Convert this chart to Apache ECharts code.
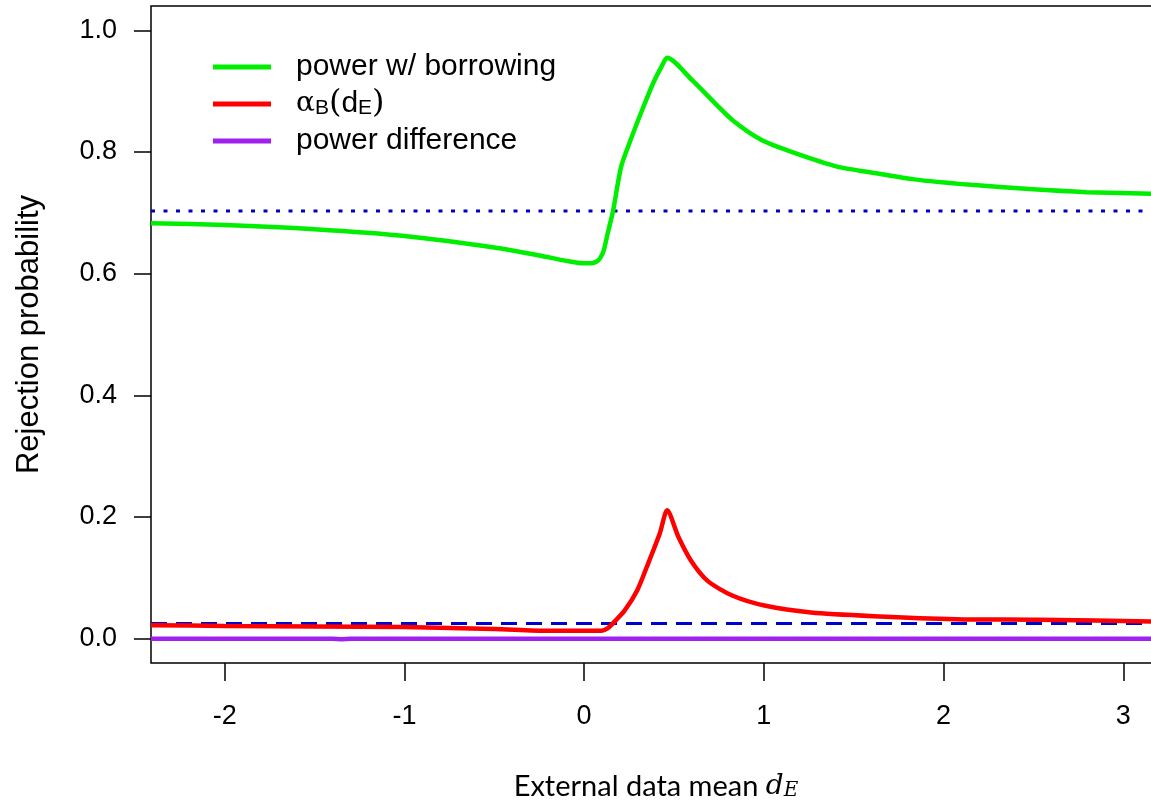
<!DOCTYPE html>
<html>
<head>
<meta charset="utf-8">
<script src="https://cdn.jsdelivr.net/npm/echarts@6/dist/echarts.min.js"></script>
<style>
  html, body { margin: 0; padding: 0; background: #ffffff; }
  #chart { width: 1151px; height: 807px; }
</style>
</head>
<body>
<div id="chart"></div>
<script>
  // values
  var xTicks = [-2, -1, 0, 1, 2, 3];
  var yTicks = [0, 0.2, 0.4, 0.6, 0.8, 1.0];

  var powerX = [-2.41, -2.0, -1.5, -1.0, -0.5, -0.25, -0.1, 0.0, 0.04, 0.07, 0.09, 0.109, 0.131, 0.161, 0.206, 0.259, 0.323, 0.384, 0.43, 0.462, 0.601, 0.729, 0.835, 0.985, 1.174, 1.408, 1.625, 1.836, 2.154, 2.476, 2.794, 3.21];
  var powerY = [0.683, 0.680, 0.673, 0.662, 0.643, 0.630, 0.621, 0.617, 0.617, 0.620, 0.626, 0.638, 0.666, 0.703, 0.776, 0.820, 0.869, 0.913, 0.94, 0.955, 0.918, 0.880, 0.850, 0.820, 0.798, 0.776, 0.765, 0.755, 0.746, 0.739, 0.734, 0.731];

  var alphaX = [-2.41, -2.0, -1.0, -0.5, -0.2, 0.0, 0.098, 0.13, 0.156, 0.225, 0.295, 0.362, 0.421, 0.462, 0.525, 0.595, 0.687, 0.824, 1.01, 1.263, 1.61, 2.07, 2.53, 3.21];
  var alphaY = [0.022, 0.021, 0.019, 0.016, 0.013, 0.013, 0.013, 0.017, 0.024, 0.046, 0.079, 0.128, 0.173, 0.211, 0.167, 0.128, 0.095, 0.071, 0.054, 0.043, 0.037, 0.032, 0.031, 0.028];

  var diffX = [-2.41, -1.4, -1.35, -1.3, 3.21];
  var diffY = [0, 0, -0.001, 0, 0];

  var refPower = 0.703;
  var refAlpha = 0.025;
  var xRange = [-2.41, 3.21];

  function pairs(xs, ys) {
    return xs.map(function (x, i) { return [x, ys[i]]; });
  }

  var chart = echarts.init(document.getElementById('chart'));
  var font = 'Liberation Sans, Arial, sans-serif';

  chart.setOption({
    animation: false,
    grid: {
      left: 151, top: 6, width: 1010, height: 657,
      outerBoundsMode: 'none',
      containLabel: false,
      show: true, borderColor: '#000', borderWidth: 1.5, backgroundColor: 'transparent'
    },
    legend: {
      orient: 'vertical',
      left: 208, top: 47,
      padding: 5,
      icon: 'rect',
      itemWidth: 58, itemHeight: 5,
      itemGap: 6,
      data: ['power w/ borrowing', 'alpha', 'power difference'],
      formatter: function (name) {
        if (name === 'alpha') return '{g|α}{s|B}{p|(}{n|d}{s|E}{p|)}';
        return '{n|' + name + '}';
      },
      textStyle: {
        fontFamily: font, fontSize: 30, color: '#000', padding: [0, 0, 0, 20],
        rich: {
          n: { fontFamily: font, fontSize: 30, lineHeight: 30, color: '#000' },
          g: { fontFamily: 'DejaVu Serif, serif', fontSize: 28, lineHeight: 30, color: '#000' },
          s: { fontFamily: font, fontSize: 21, lineHeight: 22, verticalAlign: 'bottom', color: '#000' },
          p: { fontFamily: 'DejaVu Serif, serif', fontSize: 32, lineHeight: 30, color: '#000' }
        }
      }
    },
    xAxis: {
      type: 'value',
      min: xRange[0], max: xRange[1],
      name: 'External data mean {i|d}{s|E}',
      nameLocation: 'middle',
      nameGap: 109,
      nameTextStyle: {
        fontFamily: 'Lato, Open Sans, sans-serif', fontSize: 29, color: '#000',
        rich: {
          i: { fontFamily: 'DejaVu Serif, serif', fontStyle: 'italic', fontSize: 28, color: '#000' },
          s: { fontFamily: 'DejaVu Serif, serif', fontStyle: 'italic', fontSize: 20, verticalAlign: 'bottom', color: '#000' }
        }
      },
      axisLine: { show: false, onZero: false },
      axisTick: { show: true, inside: false, length: 18, lineStyle: { color: '#000', width: 1.5 }, customValues: xTicks },
      axisLabel: { fontFamily: font, fontSize: 27, color: '#000', margin: 40, customValues: xTicks },
      splitLine: { show: false }
    },
    yAxis: {
      type: 'value',
      min: -0.04, max: 1.04,
      name: 'Rejection probability',
      nameLocation: 'middle',
      nameGap: 106,
      nameTextStyle: { fontFamily: font, fontSize: 31, color: '#000' },
      axisLine: { show: false, onZero: false },
      axisTick: { show: true, inside: false, length: 17, lineStyle: { color: '#000', width: 1.5 }, customValues: yTicks },
      axisLabel: {
        fontFamily: font, fontSize: 27, color: '#000', margin: 34, customValues: yTicks,
        formatter: function (v) { return v.toFixed(1); }
      },
      splitLine: { show: false }
    },
    series: [
      {
        name: 'ref power', type: 'line', symbol: 'none', silent: true,
        data: [[xRange[0], refPower], [xRange[1], refPower]],
        lineStyle: { color: '#0000c0', width: 3, type: [4, 8.5] }
      },
      {
        name: 'ref alpha', type: 'line', symbol: 'none', silent: true,
        data: [[xRange[0], refAlpha], [xRange[1], refAlpha]],
        lineStyle: { color: '#0000cc', width: 3, type: [16, 9] }
      },
      {
        name: 'power difference', type: 'line', symbol: 'none', z: 3,
        data: pairs(diffX, diffY),
        itemStyle: { color: '#a020f0' },
        lineStyle: { color: '#a020f0', width: 4.5 }
      },
      {
        name: 'alpha', type: 'line', symbol: 'none', smooth: 0.25, z: 4,
        data: pairs(alphaX, alphaY),
        itemStyle: { color: '#ff0000' },
        lineStyle: { color: '#ff0000', width: 4.5 }
      },
      {
        name: 'power w/ borrowing', type: 'line', symbol: 'none', smooth: 0.25, z: 5,
        data: pairs(powerX, powerY),
        itemStyle: { color: '#00ee00' },
        lineStyle: { color: '#00ee00', width: 4.5 }
      }
    ]
  });
</script>
</body>
</html>
